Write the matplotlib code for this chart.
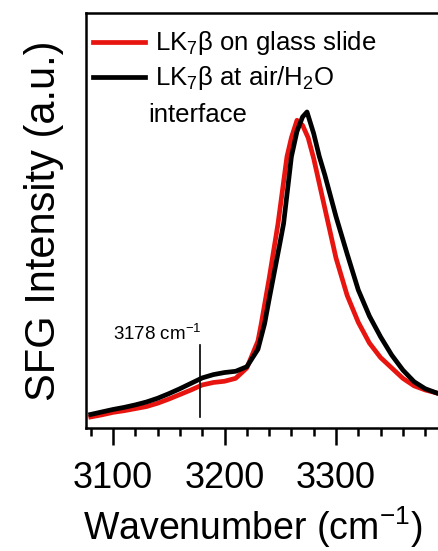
import matplotlib
matplotlib.use("Agg")
import matplotlib.pyplot as plt
from matplotlib.ticker import MultipleLocator

plt.rcParams['font.family'] = ['Liberation Sans', 'DejaVu Sans']
plt.rcParams['mathtext.fontset'] = 'custom'
plt.rcParams['mathtext.rm'] = 'Liberation Sans'
plt.rcParams['mathtext.default'] = 'regular'

# wavenumber (cm-1) and SFG intensity (a.u.)
wn_black = [3080, 3090, 3100, 3110, 3120, 3130, 3140, 3150, 3160, 3170, 3180, 3190,
            3200, 3210, 3220, 3230, 3236, 3240, 3250, 3253, 3260, 3265, 3270, 3274,
            3280, 3285, 3290, 3300, 3310, 3320, 3330, 3340, 3350, 3360, 3370, 3380, 3390]
sfg_black = [0.033, 0.039, 0.045, 0.050, 0.056, 0.063, 0.072, 0.083, 0.095, 0.108, 0.121, 0.129,
             0.134, 0.137, 0.148, 0.190, 0.252, 0.310, 0.450, 0.493, 0.654, 0.715, 0.750, 0.762,
             0.710, 0.655, 0.610, 0.510, 0.420, 0.333, 0.270, 0.220, 0.176, 0.140, 0.112, 0.095, 0.085]

wn_red = [3080, 3090, 3100, 3110, 3120, 3130, 3140, 3150, 3160, 3170, 3180, 3190,
          3200, 3210, 3220, 3230, 3233, 3240, 3248, 3256, 3260, 3265, 3270, 3275,
          3280, 3290, 3300, 3310, 3320, 3330, 3340, 3350, 3360, 3370, 3380, 3390]
sfg_red = [0.027, 0.032, 0.038, 0.042, 0.047, 0.052, 0.060, 0.070, 0.081, 0.092, 0.104, 0.110,
           0.113, 0.120, 0.145, 0.210, 0.252, 0.360, 0.493, 0.654, 0.700, 0.742, 0.730, 0.700,
           0.650, 0.530, 0.410, 0.320, 0.255, 0.205, 0.170, 0.145, 0.120, 0.102, 0.092, 0.085]

mark_wn = 3178
mark_range = [0.027, 0.2]

fig = plt.figure(figsize=(4.39, 5.51), dpi=100)
ax = fig.add_axes([0.196, 0.223, 0.804, 0.753])

ax.plot(wn_red, sfg_red, color='#e8140f', lw=3.4)
ax.plot(wn_black, sfg_black, color='black', lw=3.4)
ax.plot([mark_wn, mark_wn], mark_range, color='black', lw=1.2)
ax.text(mark_wn + 1.5, 0.212, r'3178 cm$^{-1}$', fontsize=13.5, ha='right', va='baseline')

# hand-made legend, Igor style
ax.plot([0.020, 0.167], [0.930, 0.930], color='#e8140f', lw=3.4, transform=ax.transAxes)
ax.plot([0.020, 0.167], [0.846, 0.846], color='black', lw=3.4, transform=ax.transAxes)
ax.text(0.195, 0.911, r'LK$_7$β on glass slide', transform=ax.transAxes, fontsize=18.5, va='baseline')
ax.text(0.195, 0.827, r'LK$_7$β at air/H$_2$O', transform=ax.transAxes, fontsize=18.5, va='baseline')
ax.text(0.176, 0.737, 'interface', transform=ax.transAxes, fontsize=18.5, va='baseline')

ax.set_xlim(3075.8, 3392.4)
ax.set_ylim(0, 1)
ax.xaxis.set_major_locator(MultipleLocator(100))
ax.xaxis.set_minor_locator(MultipleLocator(20))
ax.tick_params(axis='x', which='major', direction='out', length=12, width=1.8, labelsize=26, pad=12)
ax.tick_params(axis='x', which='minor', direction='out', length=6, width=1.8)
ax.set_yticks([])
ax.spines['right'].set_visible(False)
for s in ['left', 'top', 'bottom']:
    ax.spines[s].set_linewidth(1.8)

ax.set_xlabel(r'Wavenumber (cm$^{-1}$)', fontsize=27, labelpad=4)
ax.xaxis.set_label_coords(0.473, -0.185)
ax.set_ylabel('SFG Intensity (a.u.)', fontsize=30, labelpad=16)

fig.savefig('out.png', dpi=100)
